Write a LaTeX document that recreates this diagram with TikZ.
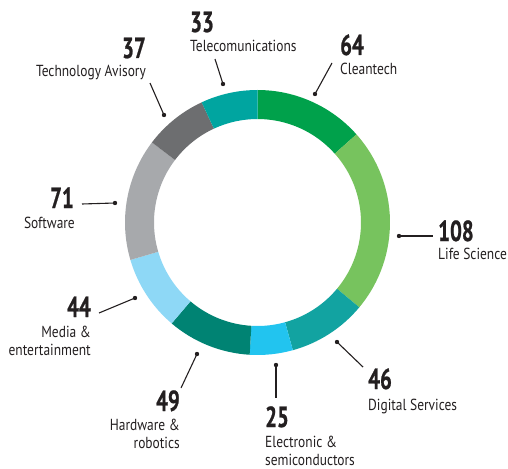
\documentclass[tikz,border=0pt]{standalone}
\usepackage{fontspec}
\newfontfamily\numfont[FakeStretch=0.72,FakeBold=0.8]{PT Sans}
\newfontfamily\labfont[FakeStretch=0.84]{PT Sans}
\definecolor{cClean}{HTML}{00A14B}
\definecolor{cLife}{HTML}{77C35E}
\definecolor{cDigital}{HTML}{12A3A1}
\definecolor{cElec}{HTML}{22C4EF}
\definecolor{cHard}{HTML}{008373}
\definecolor{cMedia}{HTML}{8ED8F6}
\definecolor{cSoft}{HTML}{A7A9AC}
\definecolor{cTech}{HTML}{6D6E70}
\definecolor{cTele}{HTML}{00A5A0}
\definecolor{ink}{HTML}{231F20}
\tikzset{
  num/.style={inner sep=0pt, text=ink, font=\numfont\bfseries\fontsize{29}{29}\selectfont},
  lab/.style={inner sep=0pt, text=ink, font=\labfont\fontsize{16}{17.5}\selectfont},
  leader/.style={draw=ink, line width=1.1pt},
  dotmark/.style={fill=ink},
}
\newcommand{\ringseg}[3]{%
  \fill[#3] (#1:132.5) arc[start angle=#1, end angle=#2, radius=132.5]
    -- (#2:103.5) arc[start angle=#2, end angle=#1, radius=103.5] -- cycle;}
\begin{document}
\begin{tikzpicture}[x=1pt,y=-1pt]
\useasboundingbox (0,0) rectangle (508,468);
\begin{scope}[shift={(257.5,222.5)}]
  \ringseg{-90}{-41.70}{cClean}
  \ringseg{-41.70}{39.81}{cLife}
  \ringseg{39.81}{74.53}{cDigital}
  \ringseg{74.53}{93.40}{cElec}
  \ringseg{93.40}{130.38}{cHard}
  \ringseg{130.38}{163.58}{cMedia}
  \ringseg{163.58}{217.17}{cSoft}
  \ringseg{217.17}{245.09}{cTech}
  \ringseg{245.09}{270}{cTele}
\end{scope}
% labels
\node[num, anchor=base west] (n33) at (190,32) {33};
\node[lab, anchor=base west] (t33) at (190,52) {Telecomunications};
\node[num, anchor=base east] (n37) at (146,58) {37};
\node[lab, anchor=base east] (t37) at (146,77) {Technology Avisory};
\node[num, anchor=base east] (n71) at (74,208) {71};
\node[lab, anchor=base east] (t71) at (75,228) {Software};
\node[num, anchor=base east] (n44) at (91,317) {44};
\node[lab, anchor=base east, align=right] (t44) at (91,355) {Media \&\\entertainment};
\node[num, anchor=base east] (n49) at (180,411) {49};
\node[lab, anchor=base east, align=right] (t49) at (180,448) {Hardware \&\\robotics};
\node[num, anchor=base west] (n25) at (265,427) {25};
\node[lab, anchor=base west, align=left] (t25) at (265,465) {Electronic \&\\semiconductors};
\node[num, anchor=base west] (n46) at (368,389) {46};
\node[lab, anchor=base west] (t46) at (368,410) {Digital Services};
\node[num, anchor=base west] (n108) at (438,241) {108};
\node[lab, anchor=base west] (t108) at (438,259) {Life Science};
\node[num, anchor=base west] (n64) at (340,55) {64};
\node[lab, anchor=base west] (t64) at (340,75) {Cleantech};
% leader lines
\coordinate (d33) at (223,84);   \coordinate (e33) at (215,59);
\coordinate (d37) at (164,115);  \coordinate (e37) at (150,83);
\coordinate (d71) at (115,203);  \coordinate (e71) at (82,204);
\coordinate (d44) at (135,298);  \coordinate (e44) at (99,313);
\coordinate (d49) at (197,354);  \coordinate (e49) at (181,388);
\coordinate (d25) at (276,365);  \coordinate (e25) at (276,398);
\coordinate (d46) at (337,342);  \coordinate (e46) at (363,367);
\coordinate (d108) at (399,236); \coordinate (e108) at (433,236);
\coordinate (d64) at (315,94);   \coordinate (e64) at (332,63);
\foreach \k in {33,37,71,44,49,25,46,108,64}{
  \draw[leader] (d\k) -- (e\k);
  \fill[dotmark] (d\k) circle[radius=2.2];
}
\end{tikzpicture}
\end{document}
